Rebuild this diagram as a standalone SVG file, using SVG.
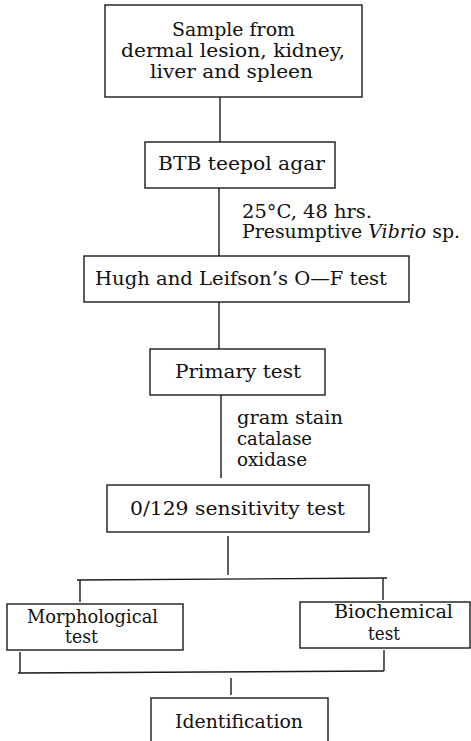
<svg xmlns="http://www.w3.org/2000/svg" width="471" height="741" viewBox="0 0 471 741">
<style>
.box{fill:none;stroke:#1a1a1a;stroke-width:1.4}
.ln{fill:none;stroke:#1a1a1a;stroke-width:1.4}
text{font-family:"DejaVu Serif","Liberation Serif",serif;font-size:19px;fill:#111}
.lb{font-size:18px}
</style>
<rect width="471" height="741" fill="#fff"/>
<g id="connectors">
<line class="ln" x1="220" y1="97" x2="220" y2="142"/>
<line class="ln" x1="219" y1="188" x2="219" y2="256"/>
<line class="ln" x1="219" y1="302" x2="219" y2="349"/>
<line class="ln" x1="221" y1="395" x2="221" y2="478"/>
<line class="ln" x1="228" y1="536" x2="228" y2="575"/>
<line class="ln" x1="77" y1="580" x2="387" y2="578"/>
<line class="ln" x1="80" y1="580" x2="80" y2="602"/>
<line class="ln" x1="383" y1="578" x2="383" y2="600"/>
<line class="ln" x1="20" y1="652" x2="20" y2="673"/>
<line class="ln" x1="384" y1="650" x2="384" y2="671"/>
<line class="ln" x1="18" y1="673" x2="384" y2="671"/>
<line class="ln" x1="231" y1="678" x2="231" y2="695"/>
<text class="lb" x="242" y="218" textLength="130" lengthAdjust="spacingAndGlyphs">25°C, 48 hrs.</text>
<text class="lb" x="242" y="238" textLength="218" lengthAdjust="spacingAndGlyphs">Presumptive <tspan font-style="italic">Vibrio</tspan> sp.</text>
<text class="lb" x="237" y="424" textLength="106" lengthAdjust="spacingAndGlyphs">gram stain</text>
<text class="lb" x="237" y="445" textLength="75" lengthAdjust="spacingAndGlyphs">catalase</text>
<text class="lb" x="237" y="466" textLength="70" lengthAdjust="spacingAndGlyphs">oxidase</text>
</g>
<g id="sample">
<rect class="box" x="105" y="5" width="257" height="92"/>
<text x="172" y="36" textLength="123" lengthAdjust="spacingAndGlyphs">Sample from</text>
<text x="121" y="57" textLength="224" lengthAdjust="spacingAndGlyphs">dermal lesion, kidney,</text>
<text x="150" y="78" textLength="163" lengthAdjust="spacingAndGlyphs">liver and spleen</text>
</g>
<g id="btb">
<rect class="box" x="145" y="142" width="190" height="46"/>
<text x="158" y="170" textLength="167" lengthAdjust="spacingAndGlyphs">BTB teepol agar</text>
</g>
<g id="of">
<rect class="box" x="84" y="256" width="325" height="46"/>
<text x="95" y="285" textLength="292" lengthAdjust="spacingAndGlyphs">Hugh and Leifson’s O—F test</text>
</g>
<g id="primary">
<rect class="box" x="150" y="349" width="175" height="46"/>
<text x="175" y="378" textLength="126" lengthAdjust="spacingAndGlyphs">Primary test</text>
</g>
<g id="sens">
<rect class="box" x="107" y="485" width="262" height="47"/>
<text x="130" y="515" textLength="215" lengthAdjust="spacingAndGlyphs">0/129 sensitivity test</text>
</g>
<g id="morph">
<rect class="box" x="7" y="604" width="176" height="46"/>
<text x="27" y="623" textLength="131" lengthAdjust="spacingAndGlyphs">Morphological</text>
<text x="65" y="643" textLength="33" lengthAdjust="spacingAndGlyphs">test</text>
</g>
<g id="bio">
<rect class="box" x="300" y="602" width="170" height="46"/>
<text x="334" y="618" textLength="119" lengthAdjust="spacingAndGlyphs">Biochemical</text>
<text x="368" y="640" textLength="32" lengthAdjust="spacingAndGlyphs">test</text>
</g>
<g id="ident">
<rect class="box" x="151" y="698" width="177" height="60"/>
<text x="175" y="728" textLength="128" lengthAdjust="spacingAndGlyphs">Identification</text>
</g>
</svg>
